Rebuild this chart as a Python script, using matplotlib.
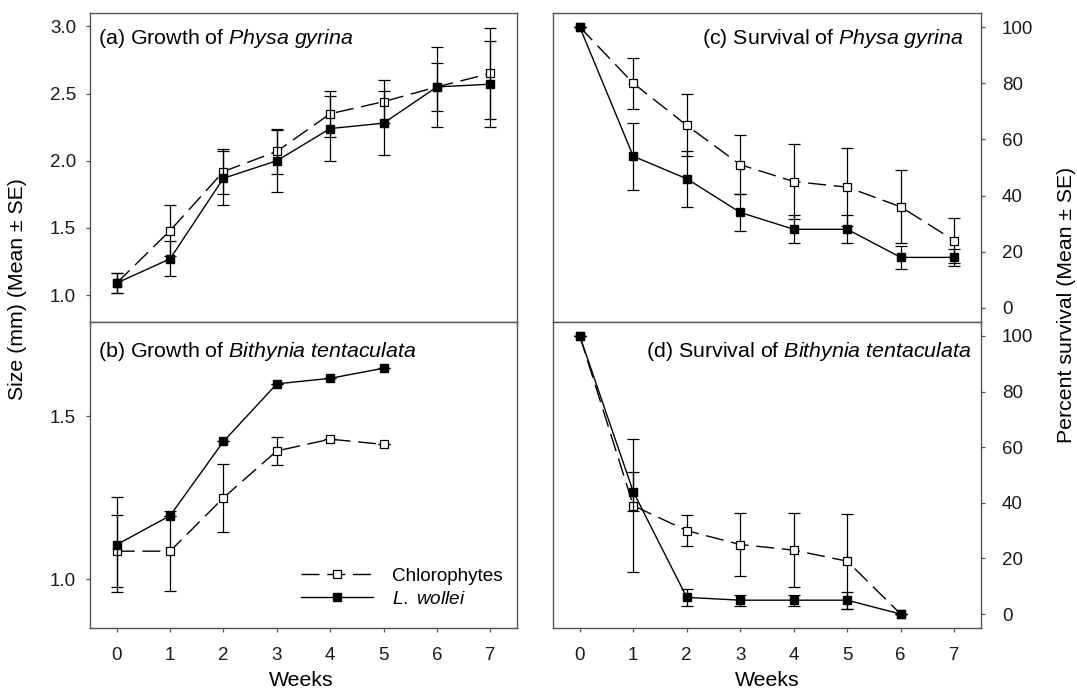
import matplotlib
matplotlib.use("Agg")
import matplotlib.pyplot as plt
from matplotlib.lines import Line2D
from matplotlib.ticker import FormatStrFormatter

plt.rcParams["font.family"] = ["Liberation Sans", "DejaVu Sans"]
plt.rcParams["mathtext.fontset"] = "custom"
plt.rcParams["mathtext.rm"] = "Liberation Sans"
plt.rcParams["mathtext.it"] = "Liberation Sans:italic"

weeks = [0, 1, 2, 3, 4, 5, 6, 7]

# (a) growth of Physa gyrina (mm)
pg_size_chl = [1.09, 1.48, 1.92, 2.07, 2.35, 2.44, 2.55, 2.65]
pg_size_chl_se = [0.075, 0.19, 0.17, 0.17, 0.17, 0.16, 0.30, 0.34]
pg_size_lw = [1.09, 1.27, 1.87, 2.00, 2.24, 2.28, 2.55, 2.57]
pg_size_lw_se = [0.075, 0.13, 0.20, 0.23, 0.24, 0.24, 0.18, 0.32]

# (b) growth of Bithynia tentaculata (mm), weeks 0-5
bt_weeks = [0, 1, 2, 3, 4, 5]
bt_size_chl = [1.086, 1.086, 1.25, 1.394, 1.43, 1.414]
bt_size_chl_se = [0.11, 0.122, 0.105, 0.043, 0.0, 0.0]
bt_size_lw = [1.106, 1.195, 1.423, 1.60, 1.617, 1.648]
bt_size_lw_se = [0.146, 0.0, 0.0, 0.0, 0.0, 0.0]

# (c) survival of Physa gyrina (%)
pg_surv_chl = [100, 80, 65, 51, 45, 43, 36, 24]
pg_surv_chl_se = [0, 9, 11, 10.5, 13.5, 14, 13, 8]
pg_surv_lw = [100, 54, 46, 34, 28, 28, 18, 18]
pg_surv_lw_se = [0, 12, 10, 6.5, 5, 5, 4, 3]

# (d) survival of Bithynia tentaculata (%), weeks 0-6
bt_surv_weeks = [0, 1, 2, 3, 4, 5, 6]
bt_surv_chl = [100, 39, 30, 25, 23, 19, 0]
bt_surv_chl_se = [0, 24, 5.7, 11.3, 13.4, 17, 0]
bt_surv_lw = [100, 44, 6, 5, 5, 5, 0]
bt_surv_lw_se = [0, 7, 3, 2, 2, 3, 0]

SPINE = "#555555"
DASH = (13, 5.5)
W, H = 1077, 694


def style_axis(ax, right=False, xlabels=True):
    for s in ax.spines.values():
        s.set_color(SPINE)
        s.set_linewidth(1.0)
    ax.set_xlim(-0.5, 7.5)
    ax.set_xticks(weeks)
    ax.tick_params(axis="both", direction="out", length=3, width=0.9,
                   color=SPINE, labelsize=13.5, labelcolor="#1a1a1a")
    ax.tick_params(axis="x", pad=10.5)
    if right:
        ax.yaxis.tick_right()
        ax.tick_params(axis="y", pad=12)
    else:
        ax.tick_params(axis="y", pad=7)
    if not xlabels:
        ax.tick_params(axis="x", labelbottom=False)


def draw(ax, x, chl, chl_se, lw, lw_se):
    ax.errorbar(x, chl, yerr=chl_se, color="black", ecolor="black",
                elinewidth=0.9, capsize=4.5, capthick=0.9, linewidth=1.0,
                dashes=DASH, marker="s", markersize=6.3,
                markerfacecolor="white", markeredgecolor="black",
                markeredgewidth=0.9, zorder=3)
    ax.errorbar(x, lw, yerr=lw_se, color="black", ecolor="black",
                elinewidth=0.9, capsize=4.5, capthick=0.9, linewidth=1.0,
                marker="s", markersize=6.3, markerfacecolor="black",
                markeredgecolor="black", zorder=4)


fig = plt.figure(figsize=(W / 100, H / 100), dpi=100)


def box(x0, y0, x1, y1):
    return [x0 / W, 1 - y1 / H, (x1 - x0) / W, (y1 - y0) / H]


ax_a = fig.add_axes(box(90, 13, 517, 322))
ax_b = fig.add_axes(box(90, 322, 517, 628))
ax_c = fig.add_axes(box(553, 13, 981, 322))
ax_d = fig.add_axes(box(553, 322, 981, 628))

# Panel (a)
draw(ax_a, weeks, pg_size_chl, pg_size_chl_se, pg_size_lw, pg_size_lw_se)
style_axis(ax_a, xlabels=False)
ax_a.set_ylim(0.8, 3.1)
ax_a.set_yticks([1.0, 1.5, 2.0, 2.5, 3.0])
ax_a.yaxis.set_major_formatter(FormatStrFormatter("%.1f"))
ax_a.text(0.019, 0.919, r"(a) Growth of $\mathit{Physa\ gyrina}$",
          transform=ax_a.transAxes, fontsize=15.4, va="center", ha="left")

# Panel (b)
draw(ax_b, bt_weeks, bt_size_chl, bt_size_chl_se, bt_size_lw, bt_size_lw_se)
style_axis(ax_b)
ax_b.set_ylim(0.85, 1.79)
ax_b.set_yticks([1.0, 1.5])
ax_b.yaxis.set_major_formatter(FormatStrFormatter("%.1f"))
ax_b.text(0.019, 0.902, r"(b) Growth of $\mathit{Bithynia\ tentaculata}$",
          transform=ax_b.transAxes, fontsize=15.4, va="center", ha="left")

handles = [
    Line2D([], [], color="black", linewidth=1.0, dashes=DASH, marker="s",
           markersize=5.5, markerfacecolor="white", markeredgecolor="black",
           markeredgewidth=0.9),
    Line2D([], [], color="black", linewidth=1.0, marker="s", markersize=5.5,
           markerfacecolor="black", markeredgecolor="black"),
]
ax_b.legend(handles, ["Chlorophytes", r"$\mathit{L.\ wollei}$"],
            loc="upper left", bbox_to_anchor=(0.494, 0.197), frameon=False,
            fontsize=13.6, handlelength=3.8, handletextpad=1.0,
            labelspacing=0.3, borderpad=0, borderaxespad=0)

# Panel (c)
draw(ax_c, weeks, pg_surv_chl, pg_surv_chl_se, pg_surv_lw, pg_surv_lw_se)
style_axis(ax_c, right=True, xlabels=False)
ax_c.set_ylim(-5, 105)
ax_c.set_yticks([0, 20, 40, 60, 80, 100])
ax_c.text(0.958, 0.919, r"(c) Survival of $\mathit{Physa\ gyrina}$",
          transform=ax_c.transAxes, fontsize=15.4, va="center", ha="right")

# Panel (d)
draw(ax_d, bt_surv_weeks, bt_surv_chl, bt_surv_chl_se, bt_surv_lw, bt_surv_lw_se)
style_axis(ax_d, right=True)
ax_d.set_ylim(-5, 105)
ax_d.set_yticks([0, 20, 40, 60, 80, 100])
ax_d.text(0.979, 0.902, r"(d) Survival of $\mathit{Bithynia\ tentaculata}$",
          transform=ax_d.transAxes, fontsize=15.4, va="center", ha="right")

# axis labels
fig.text(18 / W, 1 - 289 / H, "Size (mm) (Mean ± SE)", rotation=90,
         fontsize=15.3, va="center", ha="center")
fig.text(1066 / W, 1 - 305 / H, "Percent survival (Mean ± SE)", rotation=90,
         fontsize=15.3, va="center", ha="center")
fig.text(301 / W, 1 - 680 / H, "Weeks", fontsize=15.3, va="center", ha="center")
fig.text(767 / W, 1 - 680 / H, "Weeks", fontsize=15.3, va="center", ha="center")

fig.savefig("out.png", dpi=100)
